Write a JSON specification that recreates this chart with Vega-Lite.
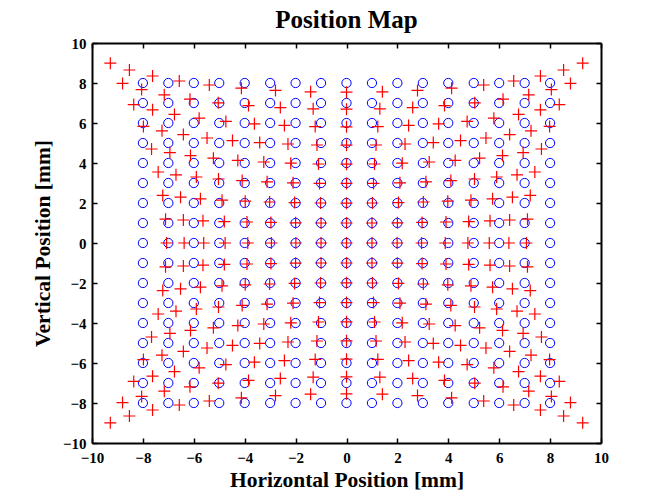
{
"$schema": "https://vega.github.io/schema/vega-lite/v6.json",
"width": 509,
"height": 400,
"autosize": {"type": "none"},
"padding": {"left": 92, "top": 43, "right": 54, "bottom": 55},
"background": "white",
"title": {"text": "Position Map", "font": "Liberation Serif", "fontSize": 25, "fontWeight": "bold", "color": "black", "offset": 3},
"config": {"view": {"stroke": null}},
"data": {"values": [
{"gx":-8,"gy":8,"x":-9.28,"y":8.99},{"gx":-7,"gy":8,"x":-8.53,"y":8.65},{"gx":-6,"gy":8,"x":-7.62,"y":8.35},{"gx":-5,"gy":8,"x":-6.57,"y":8.10},{"gx":-4,"gy":8,"x":-5.39,"y":7.90},{"gx":-3,"gy":8,"x":-4.13,"y":7.74},{"gx":-2,"gy":8,"x":-2.79,"y":7.63},{"gx":-1,"gy":8,"x":-1.41,"y":7.56},{"gx":0,"gy":8,"x":0,"y":7.54},{"gx":1,"gy":8,"x":1.41,"y":7.56},{"gx":2,"gy":8,"x":2.79,"y":7.63},{"gx":3,"gy":8,"x":4.13,"y":7.74},{"gx":4,"gy":8,"x":5.39,"y":7.90},{"gx":5,"gy":8,"x":6.57,"y":8.10},{"gx":6,"gy":8,"x":7.62,"y":8.35},{"gx":7,"gy":8,"x":8.53,"y":8.65},{"gx":8,"gy":8,"x":9.28,"y":8.99},
{"gx":-8,"gy":7,"x":-8.80,"y":7.98},{"gx":-7,"gy":7,"x":-8.05,"y":7.67},{"gx":-6,"gy":7,"x":-7.16,"y":7.41},{"gx":-5,"gy":7,"x":-6.15,"y":7.19},{"gx":-4,"gy":7,"x":-5.04,"y":7.01},{"gx":-3,"gy":7,"x":-3.85,"y":6.87},{"gx":-2,"gy":7,"x":-2.60,"y":6.77},{"gx":-1,"gy":7,"x":-1.31,"y":6.71},{"gx":0,"gy":7,"x":0,"y":6.69},{"gx":1,"gy":7,"x":1.31,"y":6.71},{"gx":2,"gy":7,"x":2.60,"y":6.77},{"gx":3,"gy":7,"x":3.85,"y":6.87},{"gx":4,"gy":7,"x":5.04,"y":7.01},{"gx":5,"gy":7,"x":6.15,"y":7.19},{"gx":6,"gy":7,"x":7.16,"y":7.41},{"gx":7,"gy":7,"x":8.05,"y":7.67},{"gx":8,"gy":7,"x":8.80,"y":7.98},
{"gx":-8,"gy":6,"x":-8.36,"y":6.92},{"gx":-7,"gy":6,"x":-7.62,"y":6.66},{"gx":-6,"gy":6,"x":-6.76,"y":6.43},{"gx":-5,"gy":6,"x":-5.79,"y":6.24},{"gx":-4,"gy":6,"x":-4.74,"y":6.08},{"gx":-3,"gy":6,"x":-3.62,"y":5.96},{"gx":-2,"gy":6,"x":-2.44,"y":5.88},{"gx":-1,"gy":6,"x":-1.23,"y":5.82},{"gx":0,"gy":6,"x":0,"y":5.81},{"gx":1,"gy":6,"x":1.23,"y":5.82},{"gx":2,"gy":6,"x":2.44,"y":5.88},{"gx":3,"gy":6,"x":3.62,"y":5.96},{"gx":4,"gy":6,"x":4.74,"y":6.08},{"gx":5,"gy":6,"x":5.79,"y":6.24},{"gx":6,"gy":6,"x":6.76,"y":6.43},{"gx":7,"gy":6,"x":7.62,"y":6.66},{"gx":8,"gy":6,"x":8.36,"y":6.92},
{"gx":-8,"gy":5,"x":-7.98,"y":5.83},{"gx":-7,"gy":5,"x":-7.25,"y":5.61},{"gx":-6,"gy":5,"x":-6.41,"y":5.42},{"gx":-5,"gy":5,"x":-5.48,"y":5.25},{"gx":-4,"gy":5,"x":-4.48,"y":5.12},{"gx":-3,"gy":5,"x":-3.41,"y":5.02},{"gx":-2,"gy":5,"x":-2.30,"y":4.95},{"gx":-1,"gy":5,"x":-1.16,"y":4.90},{"gx":0,"gy":5,"x":0,"y":4.89},{"gx":1,"gy":5,"x":1.16,"y":4.90},{"gx":2,"gy":5,"x":2.30,"y":4.95},{"gx":3,"gy":5,"x":3.41,"y":5.02},{"gx":4,"gy":5,"x":4.48,"y":5.12},{"gx":5,"gy":5,"x":5.48,"y":5.25},{"gx":6,"gy":5,"x":6.41,"y":5.42},{"gx":7,"gy":5,"x":7.25,"y":5.61},{"gx":8,"gy":5,"x":7.98,"y":5.83},
{"gx":-8,"gy":4,"x":-7.66,"y":4.70},{"gx":-7,"gy":4,"x":-6.94,"y":4.52},{"gx":-6,"gy":4,"x":-6.13,"y":4.37},{"gx":-5,"gy":4,"x":-5.23,"y":4.24},{"gx":-4,"gy":4,"x":-4.27,"y":4.13},{"gx":-3,"gy":4,"x":-3.25,"y":4.05},{"gx":-2,"gy":4,"x":-2.19,"y":3.99},{"gx":-1,"gy":4,"x":-1.10,"y":3.95},{"gx":0,"gy":4,"x":0,"y":3.94},{"gx":1,"gy":4,"x":1.10,"y":3.95},{"gx":2,"gy":4,"x":2.19,"y":3.99},{"gx":3,"gy":4,"x":3.25,"y":4.05},{"gx":4,"gy":4,"x":4.27,"y":4.13},{"gx":5,"gy":4,"x":5.23,"y":4.24},{"gx":6,"gy":4,"x":6.13,"y":4.37},{"gx":7,"gy":4,"x":6.94,"y":4.52},{"gx":8,"gy":4,"x":7.66,"y":4.70},
{"gx":-8,"gy":3,"x":-7.40,"y":3.55},{"gx":-7,"gy":3,"x":-6.70,"y":3.41},{"gx":-6,"gy":3,"x":-5.90,"y":3.30},{"gx":-5,"gy":3,"x":-5.03,"y":3.20},{"gx":-4,"gy":3,"x":-4.10,"y":3.12},{"gx":-3,"gy":3,"x":-3.12,"y":3.06},{"gx":-2,"gy":3,"x":-2.10,"y":3.01},{"gx":-1,"gy":3,"x":-1.06,"y":2.98},{"gx":0,"gy":3,"x":0,"y":2.98},{"gx":1,"gy":3,"x":1.06,"y":2.98},{"gx":2,"gy":3,"x":2.10,"y":3.01},{"gx":3,"gy":3,"x":3.12,"y":3.06},{"gx":4,"gy":3,"x":4.10,"y":3.12},{"gx":5,"gy":3,"x":5.03,"y":3.20},{"gx":6,"gy":3,"x":5.90,"y":3.30},{"gx":7,"gy":3,"x":6.70,"y":3.41},{"gx":8,"gy":3,"x":7.40,"y":3.55},
{"gx":-8,"gy":2,"x":-7.22,"y":2.38},{"gx":-7,"gy":2,"x":-6.52,"y":2.29},{"gx":-6,"gy":2,"x":-5.74,"y":2.21},{"gx":-5,"gy":2,"x":-4.89,"y":2.14},{"gx":-4,"gy":2,"x":-3.98,"y":2.09},{"gx":-3,"gy":2,"x":-3.02,"y":2.05},{"gx":-2,"gy":2,"x":-2.04,"y":2.02},{"gx":-1,"gy":2,"x":-1.02,"y":2.00},{"gx":0,"gy":2,"x":0,"y":1.99},{"gx":1,"gy":2,"x":1.02,"y":2.00},{"gx":2,"gy":2,"x":2.04,"y":2.02},{"gx":3,"gy":2,"x":3.02,"y":2.05},{"gx":4,"gy":2,"x":3.98,"y":2.09},{"gx":5,"gy":2,"x":4.89,"y":2.14},{"gx":6,"gy":2,"x":5.74,"y":2.21},{"gx":7,"gy":2,"x":6.52,"y":2.29},{"gx":8,"gy":2,"x":7.22,"y":2.38},
{"gx":-8,"gy":1,"x":-7.11,"y":1.19},{"gx":-7,"gy":1,"x":-6.41,"y":1.15},{"gx":-6,"gy":1,"x":-5.64,"y":1.11},{"gx":-5,"gy":1,"x":-4.80,"y":1.07},{"gx":-4,"gy":1,"x":-3.91,"y":1.05},{"gx":-3,"gy":1,"x":-2.97,"y":1.03},{"gx":-2,"gy":1,"x":-2.00,"y":1.01},{"gx":-1,"gy":1,"x":-1.00,"y":1.00},{"gx":0,"gy":1,"x":0,"y":1.00},{"gx":1,"gy":1,"x":1.00,"y":1.00},{"gx":2,"gy":1,"x":2.00,"y":1.01},{"gx":3,"gy":1,"x":2.97,"y":1.03},{"gx":4,"gy":1,"x":3.91,"y":1.05},{"gx":5,"gy":1,"x":4.80,"y":1.07},{"gx":6,"gy":1,"x":5.64,"y":1.11},{"gx":7,"gy":1,"x":6.41,"y":1.15},{"gx":8,"gy":1,"x":7.11,"y":1.19},
{"gx":-8,"gy":0,"x":-7.07,"y":0},{"gx":-7,"gy":0,"x":-6.38,"y":0},{"gx":-6,"gy":0,"x":-5.61,"y":0},{"gx":-5,"gy":0,"x":-4.77,"y":0},{"gx":-4,"gy":0,"x":-3.88,"y":0},{"gx":-3,"gy":0,"x":-2.95,"y":0},{"gx":-2,"gy":0,"x":-1.99,"y":0},{"gx":-1,"gy":0,"x":-1.00,"y":0},{"gx":0,"gy":0,"x":0,"y":0},{"gx":1,"gy":0,"x":1.00,"y":0},{"gx":2,"gy":0,"x":1.99,"y":0},{"gx":3,"gy":0,"x":2.95,"y":0},{"gx":4,"gy":0,"x":3.88,"y":0},{"gx":5,"gy":0,"x":4.77,"y":0},{"gx":6,"gy":0,"x":5.61,"y":0},{"gx":7,"gy":0,"x":6.38,"y":0},{"gx":8,"gy":0,"x":7.07,"y":0},
{"gx":-8,"gy":-1,"x":-7.11,"y":-1.19},{"gx":-7,"gy":-1,"x":-6.41,"y":-1.15},{"gx":-6,"gy":-1,"x":-5.64,"y":-1.11},{"gx":-5,"gy":-1,"x":-4.80,"y":-1.07},{"gx":-4,"gy":-1,"x":-3.91,"y":-1.05},{"gx":-3,"gy":-1,"x":-2.97,"y":-1.03},{"gx":-2,"gy":-1,"x":-2.00,"y":-1.01},{"gx":-1,"gy":-1,"x":-1.00,"y":-1.00},{"gx":0,"gy":-1,"x":0,"y":-1.00},{"gx":1,"gy":-1,"x":1.00,"y":-1.00},{"gx":2,"gy":-1,"x":2.00,"y":-1.01},{"gx":3,"gy":-1,"x":2.97,"y":-1.03},{"gx":4,"gy":-1,"x":3.91,"y":-1.05},{"gx":5,"gy":-1,"x":4.80,"y":-1.07},{"gx":6,"gy":-1,"x":5.64,"y":-1.11},{"gx":7,"gy":-1,"x":6.41,"y":-1.15},{"gx":8,"gy":-1,"x":7.11,"y":-1.19},
{"gx":-8,"gy":-2,"x":-7.22,"y":-2.38},{"gx":-7,"gy":-2,"x":-6.52,"y":-2.29},{"gx":-6,"gy":-2,"x":-5.74,"y":-2.21},{"gx":-5,"gy":-2,"x":-4.89,"y":-2.14},{"gx":-4,"gy":-2,"x":-3.98,"y":-2.09},{"gx":-3,"gy":-2,"x":-3.02,"y":-2.05},{"gx":-2,"gy":-2,"x":-2.04,"y":-2.02},{"gx":-1,"gy":-2,"x":-1.02,"y":-2.00},{"gx":0,"gy":-2,"x":0,"y":-1.99},{"gx":1,"gy":-2,"x":1.02,"y":-2.00},{"gx":2,"gy":-2,"x":2.04,"y":-2.02},{"gx":3,"gy":-2,"x":3.02,"y":-2.05},{"gx":4,"gy":-2,"x":3.98,"y":-2.09},{"gx":5,"gy":-2,"x":4.89,"y":-2.14},{"gx":6,"gy":-2,"x":5.74,"y":-2.21},{"gx":7,"gy":-2,"x":6.52,"y":-2.29},{"gx":8,"gy":-2,"x":7.22,"y":-2.38},
{"gx":-8,"gy":-3,"x":-7.40,"y":-3.55},{"gx":-7,"gy":-3,"x":-6.70,"y":-3.41},{"gx":-6,"gy":-3,"x":-5.90,"y":-3.30},{"gx":-5,"gy":-3,"x":-5.03,"y":-3.20},{"gx":-4,"gy":-3,"x":-4.10,"y":-3.12},{"gx":-3,"gy":-3,"x":-3.12,"y":-3.06},{"gx":-2,"gy":-3,"x":-2.10,"y":-3.01},{"gx":-1,"gy":-3,"x":-1.06,"y":-2.98},{"gx":0,"gy":-3,"x":0,"y":-2.98},{"gx":1,"gy":-3,"x":1.06,"y":-2.98},{"gx":2,"gy":-3,"x":2.10,"y":-3.01},{"gx":3,"gy":-3,"x":3.12,"y":-3.06},{"gx":4,"gy":-3,"x":4.10,"y":-3.12},{"gx":5,"gy":-3,"x":5.03,"y":-3.20},{"gx":6,"gy":-3,"x":5.90,"y":-3.30},{"gx":7,"gy":-3,"x":6.70,"y":-3.41},{"gx":8,"gy":-3,"x":7.40,"y":-3.55},
{"gx":-8,"gy":-4,"x":-7.66,"y":-4.70},{"gx":-7,"gy":-4,"x":-6.94,"y":-4.52},{"gx":-6,"gy":-4,"x":-6.13,"y":-4.37},{"gx":-5,"gy":-4,"x":-5.23,"y":-4.24},{"gx":-4,"gy":-4,"x":-4.27,"y":-4.13},{"gx":-3,"gy":-4,"x":-3.25,"y":-4.05},{"gx":-2,"gy":-4,"x":-2.19,"y":-3.99},{"gx":-1,"gy":-4,"x":-1.10,"y":-3.95},{"gx":0,"gy":-4,"x":0,"y":-3.94},{"gx":1,"gy":-4,"x":1.10,"y":-3.95},{"gx":2,"gy":-4,"x":2.19,"y":-3.99},{"gx":3,"gy":-4,"x":3.25,"y":-4.05},{"gx":4,"gy":-4,"x":4.27,"y":-4.13},{"gx":5,"gy":-4,"x":5.23,"y":-4.24},{"gx":6,"gy":-4,"x":6.13,"y":-4.37},{"gx":7,"gy":-4,"x":6.94,"y":-4.52},{"gx":8,"gy":-4,"x":7.66,"y":-4.70},
{"gx":-8,"gy":-5,"x":-7.98,"y":-5.83},{"gx":-7,"gy":-5,"x":-7.25,"y":-5.61},{"gx":-6,"gy":-5,"x":-6.41,"y":-5.42},{"gx":-5,"gy":-5,"x":-5.48,"y":-5.25},{"gx":-4,"gy":-5,"x":-4.48,"y":-5.12},{"gx":-3,"gy":-5,"x":-3.41,"y":-5.02},{"gx":-2,"gy":-5,"x":-2.30,"y":-4.95},{"gx":-1,"gy":-5,"x":-1.16,"y":-4.90},{"gx":0,"gy":-5,"x":0,"y":-4.89},{"gx":1,"gy":-5,"x":1.16,"y":-4.90},{"gx":2,"gy":-5,"x":2.30,"y":-4.95},{"gx":3,"gy":-5,"x":3.41,"y":-5.02},{"gx":4,"gy":-5,"x":4.48,"y":-5.12},{"gx":5,"gy":-5,"x":5.48,"y":-5.25},{"gx":6,"gy":-5,"x":6.41,"y":-5.42},{"gx":7,"gy":-5,"x":7.25,"y":-5.61},{"gx":8,"gy":-5,"x":7.98,"y":-5.83},
{"gx":-8,"gy":-6,"x":-8.36,"y":-6.92},{"gx":-7,"gy":-6,"x":-7.62,"y":-6.66},{"gx":-6,"gy":-6,"x":-6.76,"y":-6.43},{"gx":-5,"gy":-6,"x":-5.79,"y":-6.24},{"gx":-4,"gy":-6,"x":-4.74,"y":-6.08},{"gx":-3,"gy":-6,"x":-3.62,"y":-5.96},{"gx":-2,"gy":-6,"x":-2.44,"y":-5.88},{"gx":-1,"gy":-6,"x":-1.23,"y":-5.82},{"gx":0,"gy":-6,"x":0,"y":-5.81},{"gx":1,"gy":-6,"x":1.23,"y":-5.82},{"gx":2,"gy":-6,"x":2.44,"y":-5.88},{"gx":3,"gy":-6,"x":3.62,"y":-5.96},{"gx":4,"gy":-6,"x":4.74,"y":-6.08},{"gx":5,"gy":-6,"x":5.79,"y":-6.24},{"gx":6,"gy":-6,"x":6.76,"y":-6.43},{"gx":7,"gy":-6,"x":7.62,"y":-6.66},{"gx":8,"gy":-6,"x":8.36,"y":-6.92},
{"gx":-8,"gy":-7,"x":-8.80,"y":-7.98},{"gx":-7,"gy":-7,"x":-8.05,"y":-7.67},{"gx":-6,"gy":-7,"x":-7.16,"y":-7.41},{"gx":-5,"gy":-7,"x":-6.15,"y":-7.19},{"gx":-4,"gy":-7,"x":-5.04,"y":-7.01},{"gx":-3,"gy":-7,"x":-3.85,"y":-6.87},{"gx":-2,"gy":-7,"x":-2.60,"y":-6.77},{"gx":-1,"gy":-7,"x":-1.31,"y":-6.71},{"gx":0,"gy":-7,"x":0,"y":-6.69},{"gx":1,"gy":-7,"x":1.31,"y":-6.71},{"gx":2,"gy":-7,"x":2.60,"y":-6.77},{"gx":3,"gy":-7,"x":3.85,"y":-6.87},{"gx":4,"gy":-7,"x":5.04,"y":-7.01},{"gx":5,"gy":-7,"x":6.15,"y":-7.19},{"gx":6,"gy":-7,"x":7.16,"y":-7.41},{"gx":7,"gy":-7,"x":8.05,"y":-7.67},{"gx":8,"gy":-7,"x":8.80,"y":-7.98},
{"gx":-8,"gy":-8,"x":-9.28,"y":-8.99},{"gx":-7,"gy":-8,"x":-8.53,"y":-8.65},{"gx":-6,"gy":-8,"x":-7.62,"y":-8.35},{"gx":-5,"gy":-8,"x":-6.57,"y":-8.10},{"gx":-4,"gy":-8,"x":-5.39,"y":-7.90},{"gx":-3,"gy":-8,"x":-4.13,"y":-7.74},{"gx":-2,"gy":-8,"x":-2.79,"y":-7.63},{"gx":-1,"gy":-8,"x":-1.41,"y":-7.56},{"gx":0,"gy":-8,"x":0,"y":-7.54},{"gx":1,"gy":-8,"x":1.41,"y":-7.56},{"gx":2,"gy":-8,"x":2.79,"y":-7.63},{"gx":3,"gy":-8,"x":4.13,"y":-7.74},{"gx":4,"gy":-8,"x":5.39,"y":-7.90},{"gx":5,"gy":-8,"x":6.57,"y":-8.10},{"gx":6,"gy":-8,"x":7.62,"y":-8.35},{"gx":7,"gy":-8,"x":8.53,"y":-8.65},{"gx":8,"gy":-8,"x":9.28,"y":-8.99}
]},
"layer": [
{"mark": {"type": "point", "shape": "circle", "filled": false, "color": "#0000ff", "size": 85, "strokeWidth": 1, "opacity": 1},
 "encoding": {
  "x": {"field": "gx", "type": "quantitative", "scale": {"domain": [-10, 10], "nice": false, "zero": false},
   "axis": {"orient": "bottom", "values": [-10,-8,-6,-4,-2,0,2,4,6,8,10], "grid": false, "domainColor": "black", "domainWidth": 2, "tickColor": "black", "tickWidth": 1.5, "tickSize": -5, "labelPadding": 12, "labelFont": "Liberation Serif", "labelFontSize": 15, "labelFontWeight": "bold", "labelColor": "black", "labelFlush": false, "labelOverlap": false, "title": "Horizontal Position [mm]", "titleFont": "Liberation Serif", "titleFontSize": 21.5, "titleFontWeight": "bold", "titleColor": "black", "titlePadding": 4}},
  "y": {"field": "gy", "type": "quantitative", "scale": {"domain": [-10, 10], "nice": false, "zero": false},
   "axis": {"orient": "left", "values": [-10,-8,-6,-4,-2,0,2,4,6,8,10], "grid": false, "domainColor": "black", "domainWidth": 2, "tickColor": "black", "tickWidth": 1.5, "tickSize": -5, "labelPadding": 11, "labelFont": "Liberation Serif", "labelFontSize": 15, "labelFontWeight": "bold", "labelColor": "black", "labelFlush": false, "labelOverlap": false, "title": "Vertical Position [mm]", "titleFont": "Liberation Serif", "titleFontSize": 21.5, "titleFontWeight": "bold", "titleColor": "black", "titlePadding": 8}}
 }},
{"mark": {"type": "point", "shape": "M-1,0H1M0,-1V1", "filled": false, "color": "#ff0000", "size": 144, "strokeWidth": 1.2, "opacity": 1},
 "encoding": {
  "x": {"field": "x", "type": "quantitative", "scale": {"domain": [-10, 10], "nice": false, "zero": false},
   "axis": {"orient": "top", "values": [-10,-8,-6,-4,-2,0,2,4,6,8,10], "labels": false, "title": null, "grid": false, "domainColor": "black", "domainWidth": 2, "tickColor": "black", "tickWidth": 1.5, "tickSize": -5}},
  "y": {"field": "y", "type": "quantitative", "scale": {"domain": [-10, 10], "nice": false, "zero": false},
   "axis": {"orient": "right", "values": [-10,-8,-6,-4,-2,0,2,4,6,8,10], "labels": false, "title": null, "grid": false, "domainColor": "black", "domainWidth": 2, "tickColor": "black", "tickWidth": 1.5, "tickSize": -5}}
 }}
],
"resolve": {"axis": {"x": "independent", "y": "independent"}}
}
